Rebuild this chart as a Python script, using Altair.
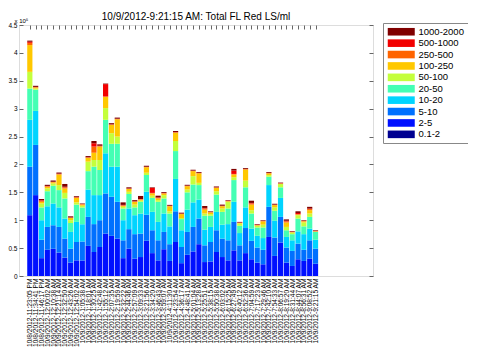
import altair as alt
import pandas as pd

labels = [
    "10/8/2012-11:23:05 PM", "10/8/2012-11:34:41 PM", "10/8/2012-11:46:17 PM",
    "10/9/2012-12:00:02 AM", "10/9/2012-12:10:38 AM", "10/9/2012-12:21:14 AM",
    "10/9/2012-12:32:50 AM", "10/9/2012-12:43:26 AM", "10/9/2012-12:54:02 AM",
    "10/9/2012-1:05:38 AM", "10/9/2012-1:18:01 AM", "10/9/2012-1:30:25 AM",
    "10/9/2012-1:42:48 AM", "10/9/2012-1:55:12 AM", "10/9/2012-2:07:35 AM",
    "10/9/2012-2:19:59 AM", "10/9/2012-2:32:22 AM", "10/9/2012-2:44:46 AM",
    "10/9/2012-2:57:09 AM", "10/9/2012-3:09:33 AM", "10/9/2012-3:21:56 AM",
    "10/9/2012-3:34:20 AM", "10/9/2012-3:46:43 AM", "10/9/2012-3:59:07 AM",
    "10/9/2012-4:11:30 AM", "10/9/2012-4:23:54 AM", "10/9/2012-4:36:17 AM",
    "10/9/2012-4:48:41 AM", "10/9/2012-5:01:04 AM", "10/9/2012-5:13:28 AM",
    "10/9/2012-5:25:51 AM", "10/9/2012-5:38:15 AM", "10/9/2012-5:50:38 AM",
    "10/9/2012-6:03:02 AM", "10/9/2012-6:15:25 AM", "10/9/2012-6:27:49 AM",
    "10/9/2012-6:40:12 AM", "10/9/2012-6:52:36 AM", "10/9/2012-7:04:59 AM",
    "10/9/2012-7:17:23 AM", "10/9/2012-7:29:46 AM", "10/9/2012-7:42:10 AM",
    "10/9/2012-7:54:33 AM", "10/9/2012-8:06:57 AM", "10/9/2012-8:19:20 AM",
    "10/9/2012-8:31:44 AM", "10/9/2012-8:44:07 AM", "10/9/2012-8:56:31 AM",
    "10/9/2012-9:08:52 AM", "10/9/2012-9:21:15 AM",
]

# values in units of 10^5 LS/ml
b0_2 = [0.0] * 50
b2_5 = [1.09, 1.45, 0.32, 0.47, 0.49, 0.42, 0.33, 0.24, 0.28, 0.28,
        0.54, 0.43, 0.52, 0.76, 0.72, 0.67, 0.32, 0.49, 0.31, 0.34,
        0.63, 0.41, 0.28, 0.48, 0.27, 0.61, 0.23, 0.38, 0.44, 0.57,
        0.25, 0.26, 0.43, 0.34, 0.28, 0.46, 0.28, 0.41, 0.30, 0.24,
        0.21, 0.70, 0.36, 0.60, 0.24, 0.18, 0.30, 0.27, 0.31, 0.22]
b5_10 = [0.87, 0.90, 0.33, 0.41, 0.42, 0.46, 0.34, 0.25, 0.33, 0.34,
         0.52, 0.50, 0.48, 0.72, 0.70, 0.66, 0.32, 0.35, 0.44, 0.42,
         0.47, 0.41, 0.36, 0.31, 0.30, 0.55, 0.29, 0.41, 0.44, 0.46,
         0.30, 0.35, 0.39, 0.33, 0.36, 0.51, 0.27, 0.45, 0.33, 0.27,
         0.26, 0.54, 0.33, 0.46, 0.27, 0.27, 0.28, 0.20, 0.33, 0.27]
b10_20 = [0.84, 0.61, 0.35, 0.37, 0.39, 0.35, 0.36, 0.30, 0.36, 0.31,
          0.49, 0.52, 0.45, 0.72, 0.54, 0.63, 0.36, 0.37, 0.34, 0.36,
          0.41, 0.33, 0.33, 0.33, 0.32, 0.58, 0.30, 0.40, 0.44, 0.34,
          0.28, 0.27, 0.33, 0.25, 0.29, 0.36, 0.22, 0.37, 0.22, 0.21,
          0.21, 0.39, 0.30, 0.34, 0.19, 0.19, 0.22, 0.28, 0.21, 0.16]
b20_50 = [0.56, 0.38, 0.23, 0.27, 0.32, 0.31, 0.36, 0.16, 0.31, 0.30,
          0.33, 0.51, 0.45, 0.60, 0.41, 0.41, 0.21, 0.26, 0.14, 0.21,
          0.30, 0.25, 0.36, 0.27, 0.23, 0.50, 0.20, 0.31, 0.32, 0.26,
          0.25, 0.20, 0.31, 0.23, 0.28, 0.39, 0.13, 0.36, 0.27, 0.15,
          0.19, 0.15, 0.18, 0.19, 0.12, 0.11, 0.23, 0.14, 0.21, 0.14]
b50_100 = [0.30, 0.02, 0.07, 0.05, 0.04, 0.09, 0.10, 0.05, 0.04, 0.03,
           0.17, 0.12, 0.18, 0.21, 0.19, 0.13, 0.03, 0.04, 0.05, 0.02,
           0.04, 0.04, 0.03, 0.06, 0.04, 0.18, 0.02, 0.05, 0.15, 0.04,
           0.04, 0.03, 0.06, 0.06, 0.12, 0.05, 0.04, 0.12, 0.06, 0.03,
           0.05, 0.03, 0.06, 0.06, 0.06, 0.03, 0.06, 0.07, 0.06, 0.005]
b100_250 = [0.48, 0.02, 0.03, 0.03, 0.02, 0.19, 0.08, 0.04, 0.08, 0.02,
            0.07, 0.13, 0.24, 0.20, 0.15, 0.31, 0.02, 0.05, 0.05, 0.02,
            0.10, 0.04, 0.03, 0.03, 0.09, 0.15, 0.07, 0.06, 0.09, 0.17,
            0.07, 0.03, 0.06, 0.04, 0.01, 0.05, 0.01, 0.20, 0.10, 0.01,
            0.06, 0.03, 0.04, 0.005, 0.08, 0.005, 0.01, 0.02, 0.06, 0.005]
b250_500 = [0.04, 0.005, 0.02, 0.01, 0.005, 0.01, 0.02, 0.005, 0.01, 0.005,
            0.005, 0.11, 0.01, 0.01, 0.005, 0.005, 0.005, 0.005, 0.005, 0.005,
            0.005, 0.01, 0.01, 0.005, 0.005, 0.005, 0.005, 0.005, 0.005, 0.005,
            0.02, 0.005, 0.005, 0.005, 0.005, 0.01, 0.005, 0.005, 0.02, 0.005,
            0.005, 0.005, 0.005, 0.005, 0.02, 0.005, 0.01, 0.005, 0.02, 0.005]
b500_1000 = [0.02, 0.005, 0.01, 0.005, 0.005, 0.005, 0.01, 0.005, 0.005, 0.005,
             0.005, 0.06, 0.005, 0.22, 0.005, 0.005, 0.01, 0.005, 0.005, 0.005,
             0.005, 0.09, 0.01, 0.005, 0.005, 0.005, 0.005, 0.005, 0.005, 0.005,
             0.01, 0.005, 0.005, 0.005, 0.005, 0.06, 0.005, 0.005, 0.01, 0.005,
             0.005, 0.005, 0.005, 0.005, 0.01, 0.005, 0.02, 0.005, 0.01, 0.005]
b1000_2000 = [0.02, 0.02, 0.02, 0.02, 0.02, 0.02, 0.05, 0.02, 0.015, 0.01,
              0.02, 0.04, 0.025, 0.01, 0.02, 0.02, 0.045, 0.02, 0.02, 0.055,
              0.015, 0.01, 0.03, 0.015, 0.015, 0.02, 0.015, 0.015, 0.015, 0.015,
              0.035, 0.01, 0.015, 0.02, 0.01, 0.03, 0.01, 0.015, 0.04, 0.01,
              0.01, 0.015, 0.015, 0.01, 0.025, 0.01, 0.03, 0.01, 0.03, 0.01]

bins = ["1000-2000", "500-1000", "250-500", "100-250", "50-100",
        "20-50", "10-20", "5-10", "2-5", "0.1-2"]
colors = ["#800000", "#f20000", "#ff6400", "#ffc800", "#c4ff3c",
          "#44ffb4", "#00d4ff", "#0070ff", "#0010ff", "#000090"]
series = {
    "0.1-2": b0_2, "2-5": b2_5, "5-10": b5_10, "10-20": b10_20,
    "20-50": b20_50, "50-100": b50_100, "100-250": b100_250,
    "250-500": b250_500, "500-1000": b500_1000, "1000-2000": b1000_2000,
}
y_ticks = [0, 0.5, 1, 1.5, 2, 2.5, 3, 3.5, 4, 4.5]

rows = []
for i, lab in enumerate(labels):
    for rank, b in enumerate(reversed(bins)):
        rows.append({"idx": i + 1, "label": lab, "bin": b, "rank": rank,
                     "value": series[b][i]})
df = pd.DataFrame(rows)

idx_values = list(range(1, len(labels) + 1))
label_expr = "[" + ",".join("'" + l + "'" for l in labels) + "][datum.value - 1]"

FONT = "Liberation Sans"
W, H = 354, 251
xscale = alt.Scale(domain=[0, 59], nice=False, zero=False)
yscale = alt.Scale(domain=[0, 4.5], nice=False)

base = alt.Chart(df)

bars = base.mark_bar(size=5.2, orient="vertical").encode(
    x=alt.X("idx:Q", scale=xscale,
            axis=alt.Axis(orient="bottom", values=idx_values, labelExpr=label_expr,
                          labelAngle=-90, labelFontSize=6.6, labelFont=FONT,
                          labelColor="black", labelPadding=2, labelOverlap=False,
                          labelFlush=False, labelBound=False, ticks=False,
                          domain=False, grid=False, title=None)),
    y=alt.Y("value:Q", stack="zero", scale=yscale,
            axis=alt.Axis(orient="left", values=y_ticks, format="~g",
                          labelFontSize=6.5, labelFont=FONT, labelColor="black",
                          labelPadding=2, ticks=False, domain=False, grid=False,
                          title="x 10\u2075", titleAngle=0, titleX=-5, titleY=-3,
                          titleAlign="left", titleBaseline="alphabetic",
                          titleFontSize=6, titleFontWeight="normal",
                          titleFont=FONT, titleColor="black")),
    color=alt.Color("bin:N", scale=alt.Scale(domain=bins, range=colors),
                    legend=alt.Legend(orient="none", legendX=364, legendY=-2,
                                      title=None, fillColor="white",
                                      strokeColor="#888888", padding=4,
                                      labelFontSize=9.5, labelFont=FONT,
                                      labelColor="black",
                                      symbolType="M-3.375,-0.95H3.375V0.95H-3.375Z",
                                      symbolSize=64, symbolStrokeWidth=0,
                                      symbolOpacity=1, symbolOffset=9.5,
                                      rowPadding=0.4, labelOffset=12.5)),
    order=alt.Order("rank:Q", sort="ascending"),
)

ticks_a = base.mark_point(opacity=0).encode(
    x=alt.X("idx:Q", scale=xscale,
            axis=alt.Axis(orient="top", offset=-4, tickSize=4, values=idx_values,
                          labels=False, domain=False, grid=False, title=None,
                          tickColor="#666666")),
    y=alt.Y("value:Q", scale=yscale,
            axis=alt.Axis(orient="left", offset=-4, tickSize=4, values=y_ticks,
                          labels=False, domain=False, grid=False, title=None,
                          tickColor="#666666")),
)

ticks_b = base.mark_point(opacity=0).encode(
    x=alt.X("idx:Q", scale=xscale, axis=None),
    y=alt.Y("value:Q", scale=yscale,
            axis=alt.Axis(orient="right", offset=-4, tickSize=4, values=y_ticks,
                          labels=False, domain=False, grid=False, title=None,
                          tickColor="#666666")),
)

chart = (
    alt.layer(bars, ticks_a, ticks_b)
    .resolve_axis(x="independent", y="independent")
    .properties(
        width=W, height=H,
        title=alt.Title("10/9/2012-9:21:15 AM: Total FL Red LS/ml",
                        fontSize=10, fontWeight="normal", font=FONT,
                        color="black", anchor="middle", frame="group",
                        offset=0, dy=5),
        autosize=alt.AutoSizeParams(type="none"),
        padding={"left": 11, "top": 17, "right": 95, "bottom": 74},
    )
    .configure_view(stroke="#888888", strokeWidth=1)
    .configure(background="white")
)

chart.save("out.html", embed_options={"renderer": "svg", "actions": False})
